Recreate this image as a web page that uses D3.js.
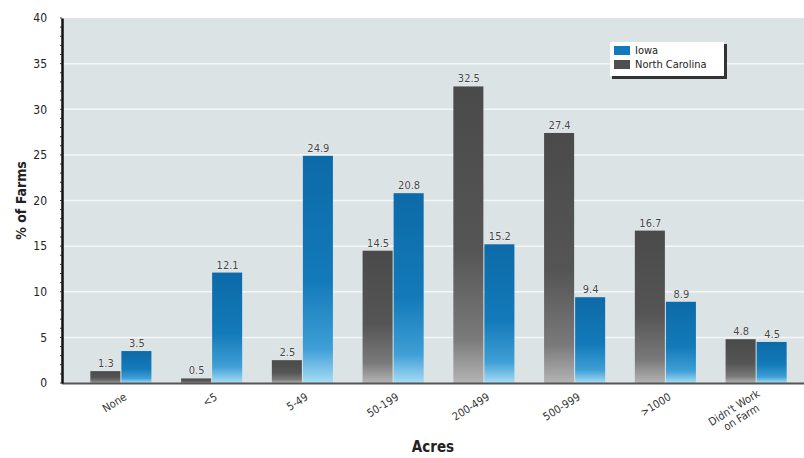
<!DOCTYPE html>
<html>
<head>
<meta charset="utf-8">
<script src="https://cdn.jsdelivr.net/npm/d3@7"></script>
<style>
  body { margin: 0; background: #fff; }
  svg text { font-family: "DejaVu Sans Condensed", "Liberation Sans Narrow", sans-serif; font-stretch: condensed; }
</style>
</head>
<body>
<div id="chart"></div>
<script>
// data
var categories = ["None", "<5", "5-49", "50-199", "200-499", "500-999", ">1000", "Didn't Work|on Farm"];
var series = ["North Carolina", "Iowa"];
var northCarolina = [1.3, 0.5, 2.5, 14.5, 32.5, 27.4, 16.7, 4.8];
var iowa = [3.5, 12.1, 24.9, 20.8, 15.2, 9.4, 8.9, 4.5];
var yTicks = [0, 5, 10, 15, 20, 25, 30, 35, 40];

var width = 804,
    height = 458;

var plotLeft = 62, plotRight = 804, plotTop = 18, plotBottom = 383;

var svg = d3.select("#chart").append("svg")
    .attr("width", width)
    .attr("height", height);

var defs = svg.append("defs");

function grad(id, stops) {
  var g = defs.append("linearGradient").attr("id", id)
    .attr("x1", 0).attr("y1", 0).attr("x2", 0).attr("y2", 1);
  stops.forEach(function(s) {
    g.append("stop").attr("offset", s[0]).attr("stop-color", s[1]);
  });
}
grad("gIowa", [[0, "#0d6aa8"], [0.55, "#137ab9"], [0.85, "#3f9fd6"], [1, "#a6dcf5"]]);
grad("gNC", [[0, "#4a4a4a"], [0.55, "#555555"], [0.85, "#7a7a7a"], [1, "#b4b4b4"]]);

var y = d3.scaleLinear().domain([0, 40]).range([plotBottom, plotTop]);

var x = d3.scaleBand().domain(categories).range([76, 802])
    .paddingInner(0.316).paddingOuter(0.158);

var xs = d3.scaleBand().domain(series).range([0, x.bandwidth()]);

// plot background
svg.append("rect")
    .attr("x", plotLeft).attr("y", plotTop)
    .attr("width", plotRight - plotLeft).attr("height", plotBottom - plotTop)
    .attr("fill", "#dce3e5");

// gridlines
svg.append("g").selectAll("line")
    .data(yTicks.filter(function(d){ return d > 0 && d < 40; }))
  .enter().append("line")
    .attr("x1", plotLeft).attr("x2", plotRight)
    .attr("y1", function(d){ return y(d); })
    .attr("y2", function(d){ return y(d); })
    .attr("stroke", "#f4f7f8")
    .attr("stroke-width", 1.5);

// bars
var rows = categories.map(function(c, i) {
  return { cat: c, vals: [
    { s: "North Carolina", v: northCarolina[i], fill: "url(#gNC)" },
    { s: "Iowa", v: iowa[i], fill: "url(#gIowa)" }
  ]};
});

var groups = svg.append("g").selectAll("g")
    .data(rows)
  .enter().append("g")
    .attr("transform", function(d){ return "translate(" + x(d.cat) + ",0)"; });

groups.selectAll("rect")
    .data(function(d){ return d.vals; })
  .enter().append("rect")
    .attr("x", function(d){ return xs(d.s); })
    .attr("y", function(d){ return y(d.v); })
    .attr("width", xs.bandwidth() - 1)
    .attr("height", function(d){ return plotBottom - y(d.v); })
    .attr("fill", function(d){ return d.fill; });

groups.selectAll("text")
    .data(function(d){ return d.vals; })
  .enter().append("text")
    .attr("x", function(d){ return xs(d.s) + xs.bandwidth() / 2; })
    .attr("y", function(d){ return y(d.v) - 4; })
    .attr("text-anchor", "middle")
    .attr("font-size", 11)
    .attr("fill", "#444")
    .attr("stroke", "#fff")
    .attr("stroke-width", 0.6)
    .attr("paint-order", "stroke")
    .text(function(d){ return d.v; });

// baseline
svg.append("line")
    .attr("x1", plotLeft).attr("x2", plotRight)
    .attr("y1", plotBottom + 0.5).attr("y2", plotBottom + 0.5)
    .attr("stroke", "#555").attr("stroke-width", 2);

// y axis
var yAxis = svg.append("g")
    .attr("transform", "translate(" + plotLeft + ",0)")
    .call(d3.axisLeft(y).tickValues(yTicks).tickSize(0).tickPadding(15));
yAxis.select(".domain").attr("stroke", "#111").attr("stroke-width", 2.5);
yAxis.selectAll("text")
    .attr("font-size", 12)
    .attr("fill", "#222")
    .style("font-family", "'DejaVu Sans Condensed', sans-serif");

// minor ticks on y axis
svg.append("g").selectAll("line")
    .data(d3.range(0, 41))
  .enter().append("line")
    .attr("x1", plotLeft - 2).attr("x2", plotLeft)
    .attr("y1", function(d){ return y(d); })
    .attr("y2", function(d){ return y(d); })
    .attr("stroke", "#333").attr("stroke-width", 1);

// x labels
var xl = svg.append("g").selectAll("text")
    .data(categories)
  .enter().append("text")
    .attr("transform", function(d){
      return "translate(" + (x(d) + x.bandwidth() / 2 + 6) + "," + (plotBottom + 16) + ") rotate(-32)";
    })
    .attr("text-anchor", "end")
    .attr("font-size", 11)
    .attr("fill", "#333");

xl.each(function(d) {
  var parts = d.split("|");
  var t = d3.select(this);
  parts.forEach(function(p, i) {
    t.append("tspan")
      .attr("x", i === 0 ? 0 : -8)
      .attr("dy", i === 0 ? (parts.length > 1 ? -4 : 0) : 12)
      .text(p);
  });
});

// axis titles
svg.append("text")
    .attr("transform", "translate(26," + ((plotTop + plotBottom) / 2) + ") rotate(-90)")
    .attr("text-anchor", "middle")
    .attr("font-size", 14)
    .attr("font-weight", "bold")
    .attr("fill", "#222")
    .text("% of Farms");

svg.append("text")
    .attr("x", 433).attr("y", 452)
    .attr("text-anchor", "middle")
    .attr("font-size", 15)
    .attr("font-weight", "bold")
    .attr("fill", "#222")
    .text("Acres");

// legend
var legend = svg.append("g").attr("transform", "translate(610,42)");
legend.append("rect").attr("x", 2).attr("y", 2).attr("width", 115).attr("height", 35).attr("fill", "#333");
legend.append("rect").attr("x", 0).attr("y", 0).attr("width", 114).attr("height", 34).attr("fill", "#fff");
var legendItems = [
  { name: "Iowa", fill: "#1279bb" },
  { name: "North Carolina", fill: "#4f4f4f" }
];
legendItems.forEach(function(d, i) {
  legend.append("rect")
    .attr("x", 4).attr("y", 4 + i * 14)
    .attr("width", 16).attr("height", 9)
    .attr("fill", d.fill);
  legend.append("text")
    .attr("x", 25).attr("y", 12 + i * 14)
    .attr("font-size", 11)
    .attr("fill", "#222")
    .text(d.name);
});
</script>
</body>
</html>
